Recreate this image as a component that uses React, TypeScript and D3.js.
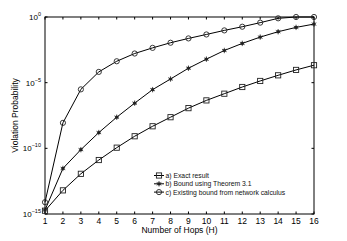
import React, { useEffect, useRef } from 'react';
import * as d3 from 'd3';

const hops = [1, 2, 3, 4, 5, 6, 7, 8, 9, 10, 11, 12, 13, 14, 15, 16];
// log10 of violation probability
const exactLog = [-14.75, -13.2, -11.94, -10.89, -9.95, -9.08, -8.32, -7.63, -6.94, -6.35, -5.84, -5.33, -4.87, -4.44, -4.03, -3.67];
const theoremLog = [-14.7, -11.53, -10.1, -8.8, -7.63, -6.56, -5.53, -4.72, -3.9, -3.21, -2.55, -2.01, -1.53, -1.12, -0.79, -0.54];
const existingLog = [-14.1, -8.06, -5.51, -4.18, -3.37, -2.78, -2.35, -1.96, -1.63, -1.33, -1.02, -0.74, -0.43, -0.1, 0, 0];
const yTicks = [-15, -10, -5, 0];
const legendLabels = ['a) Exact result', 'b) Bound using Theorem 3.1', 'c) Existing bound from network calculus'];

const App = () => {
  const svgRef = useRef<SVGSVGElement>(null);

  useEffect(() => {
    const svg = d3.select(svgRef.current);
    svg.selectAll('*').remove();

    const width = 347;
    const height = 241;
    const margin = { top: 17, right: 33, bottom: 27, left: 45 };
    const font = 'Liberation Sans, Arial, sans-serif';

    const x = d3.scaleLinear().domain([1, 16]).range([margin.left, width - margin.right]);
    const y = d3.scaleLinear().domain([-15, 0]).range([height - margin.bottom, margin.top]);

    const x0 = margin.left, x1 = width - margin.right;
    const y0 = margin.top, y1 = height - margin.bottom;

    // box
    svg.append('rect')
      .attr('x', x0).attr('y', y0)
      .attr('width', x1 - x0).attr('height', y1 - y0)
      .attr('fill', 'none').attr('stroke', '#000').attr('stroke-width', 1);

    // x ticks (inward, top and bottom)
    const tl = 2.5;
    hops.forEach(h => {
      svg.append('line').attr('x1', x(h)).attr('x2', x(h)).attr('y1', y1).attr('y2', y1 - tl).attr('stroke', '#000');
      svg.append('line').attr('x1', x(h)).attr('x2', x(h)).attr('y1', y0).attr('y2', y0 + tl).attr('stroke', '#000');
      svg.append('text')
        .attr('x', x(h)).attr('y', y1 + 10)
        .attr('text-anchor', 'middle')
        .style('font-family', font).attr('font-size', 8.5).attr('fill', '#000')
        .text(h);
    });

    // y ticks
    yTicks.forEach(t => {
      svg.append('line').attr('x1', x0).attr('x2', x0 + tl).attr('y1', y(t)).attr('y2', y(t)).attr('stroke', '#000');
      svg.append('line').attr('x1', x1).attr('x2', x1 - tl).attr('y1', y(t)).attr('y2', y(t)).attr('stroke', '#000');
      const txt = svg.append('text')
        .attr('x', x0 - 4).attr('y', y(t) + 3)
        .attr('text-anchor', 'end')
        .style('font-family', font).attr('font-size', 8).attr('fill', '#000');
      txt.append('tspan').text('10');
      txt.append('tspan').attr('dy', -4).attr('font-size', 5.5).text(t === 0 ? '0' : String(t).replace('-', '\u2212'));
    });

    // axis labels
    svg.append('text')
      .attr('x', (x0 + x1) / 2).attr('y', y1 + 19)
      .attr('text-anchor', 'middle')
      .style('font-family', font).attr('font-size', 8.5).attr('fill', '#000')
      .text('Number of Hops (H)');
    svg.append('text')
      .attr('transform', `translate(18,${(y0 + y1) / 2}) rotate(-90)`)
      .attr('text-anchor', 'middle')
      .style('font-family', font).attr('font-size', 8.5).attr('fill', '#000')
      .text('Violation Probability');

    const line = d3.line<number>().x((d, i) => x(hops[i])).y(d => y(d));

    const drawMarker = (g: any, kind: string, cx: number, cy: number) => {
      if (kind === 'square') {
        g.append('rect').attr('x', cx - 2.6).attr('y', cy - 2.6).attr('width', 5.2).attr('height', 5.2)
          .attr('fill', 'none').attr('stroke', '#222').attr('stroke-width', 0.9);
      } else if (kind === 'circle') {
        g.append('circle').attr('cx', cx).attr('cy', cy).attr('r', 2.6)
          .attr('fill', 'none').attr('stroke', '#222').attr('stroke-width', 0.9);
      } else {
        g.append('circle').attr('cx', cx).attr('cy', cy).attr('r', 1.6).attr('fill', '#222');
        [0, 60, 120].forEach(a => {
          const r = (a * Math.PI) / 180;
          g.append('line')
            .attr('x1', cx - 2.7 * Math.sin(r)).attr('y1', cy - 2.7 * Math.cos(r))
            .attr('x2', cx + 2.7 * Math.sin(r)).attr('y2', cy + 2.7 * Math.cos(r))
            .attr('stroke', '#222').attr('stroke-width', 0.8);
        });
      }
    };

    const series = [
      { data: exactLog, kind: 'square' },
      { data: theoremLog, kind: 'star' },
      { data: existingLog, kind: 'circle' },
    ];

    series.forEach(s => {
      svg.append('path')
        .attr('d', line(s.data))
        .attr('fill', 'none').attr('stroke', '#000').attr('stroke-width', 1);
      const g = svg.append('g');
      s.data.forEach((d, i) => drawMarker(g, s.kind, x(hops[i]), y(d)));
    });

    // legend
    series.forEach((s, i) => {
      const ly = 175.5 + i * 8.3;
      svg.append('line').attr('x1', 154).attr('x2', 164).attr('y1', ly).attr('y2', ly)
        .attr('stroke', '#000').attr('stroke-width', 1);
      drawMarker(svg.append('g'), s.kind, 159, ly);
      svg.append('text')
        .attr('x', 165.5).attr('y', ly + 2.5)
        .style('font-family', font).attr('font-size', 6.8).attr('fill', '#111')
        .text(legendLabels[i]);
    });
  }, []);

  return (
    <svg ref={svgRef} width={347} height={241}
      style={{ position: 'absolute', left: 0, top: 0, background: '#fff' }} />
  );
};

export default App;
